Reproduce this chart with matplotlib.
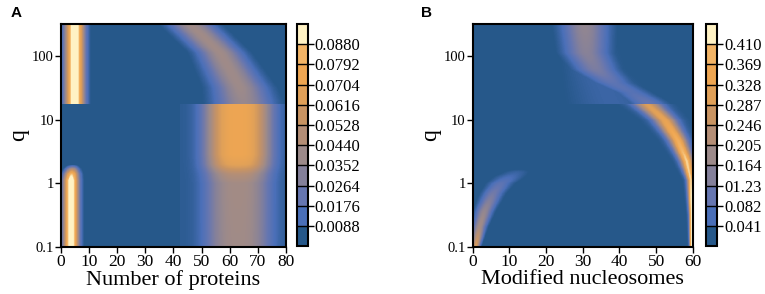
import numpy as np
import matplotlib
matplotlib.use("Agg")
import matplotlib.pyplot as plt
from matplotlib.colors import LinearSegmentedColormap, ListedColormap, BoundaryNorm, Normalize
from matplotlib.cm import ScalarMappable
from matplotlib.ticker import NullLocator

plt.rcParams['font.family'] = ['Liberation Serif', 'DejaVu Serif']

# colour blocks of the colour bars (bottom -> top)
block_colors = ['#26588a', '#4a6fb8', '#6676b0', '#84809a', '#9c8a8a', '#b48e76',
                '#c99462', '#e0a058', '#eea652', '#f2b466', '#fff2c4']

# q break where the solutions change regime
q_break = 17.8

# ---- panel A: number of proteins (log10 q, centre, width, height) ----
A_left_low_lq = [-1.0, 0.05, 0.15, 0.22, 0.30]
A_left_low_c = [3.6, 3.6, 3.8, 4.0, 4.2]
A_left_low_s = [1.9, 1.9, 1.8, 1.6, 1.4]
A_left_low_a = [0.102, 0.102, 0.085, 0.05, 0.0]

A_left_up_lq = [1.25, 2.5]
A_left_up_c = [4.9, 4.9]
A_left_up_s = [2.3, 2.3]
A_left_up_a = [0.106, 0.106]

A_band_up_lq = [1.25, 1.3, 1.5, 2.05, 2.5]
A_band_up_c = [65.0, 64.8, 63.7, 56.6, 46.0]
A_band_up_s = [7.0, 7.0, 6.5, 5.5, 5.5]
A_band_up_a = [0.038, 0.038, 0.040, 0.041, 0.041]

A_mid_low_lq = [-1.0, 0.0, 0.15, 0.3, 0.45, 1.25]
A_mid_low_c = [63.0, 63.0, 63.0, 63.0, 63.0, 63.0]
A_mid_low_s = [9.0, 9.0, 9.0, 9.0, 9.0, 9.0]
A_mid_low_a = [0.035, 0.036, 0.043, 0.062, 0.068, 0.068]

A_plateau_x = 42.5
A_plateau_v = 0.006

# ---- panel B: modified nucleosomes ----
B_arc_lq = [-1.0, -0.5, 0.05, 0.36, 0.68, 0.99, 1.25]
B_arc_c = [59.7, 59.7, 59.5, 58.3, 55.9, 52.4, 47.4]
B_arc_s = [0.35, 0.45, 0.7, 1.2, 1.6, 2.0, 2.4]
B_arc_a = [0.46, 0.42, 0.37, 0.37, 0.33, 0.29, 0.26]

B_left_lq = [-1.0, -0.69, -0.43, -0.16, 0.0, 0.10, 0.18, 0.26]
B_left_c = [0.8, 1.8, 3.2, 5.5, 7.6, 10.0, 12.0, 13.5]
B_left_s = [0.7, 1.2, 1.6, 2.0, 2.4, 3.0, 3.0, 3.0]
B_left_a = [0.30, 0.20, 0.17, 0.12, 0.09, 0.06, 0.04, 0.0]

B_band_up_lq = [1.25, 1.28, 1.42, 1.57, 1.78, 2.05, 2.5]
B_band_up_c = [48.0, 47.4, 43.6, 38.3, 33.7, 31.0, 30.5]
B_band_up_s = [3.5, 3.5, 3.5, 3.8, 4.0, 4.2, 4.4]
B_band_up_a = [0.10, 0.10, 0.08, 0.09, 0.13, 0.15, 0.17]

B_halo_up_lq = [1.25, 1.5, 1.8, 2.5]
B_halo_up_c = [38.0, 36.0, 33.0, 30.0]
B_halo_up_s = [10.0, 9.0, 7.0, 6.0]
B_halo_up_a = [0.045, 0.045, 0.045, 0.045]
B_halo_edge = 21.5

cbar_A_labels = ['0.0088', '0.0176', '0.0264', '0.0352', '0.0440',
                 '0.0528', '0.0616', '0.0704', '0.0792', '0.0880']
cbar_B_labels = ['0.041', '0.082', '01.23', '0.164', '0.205',
                 '0.246', '0.287', '0.328', '0.369', '0.410']
step_A = 0.0088
step_B = 0.041


def peak(x, lq, lqs, c, s, a, power=2.0):
    C = np.interp(lq, lqs, c)[:, None]
    S = np.interp(lq, lqs, s)[:, None]
    A = np.interp(lq, lqs, a, left=0.0, right=0.0)[:, None]
    return A * np.exp(-0.5 * (np.abs(x[None, :] - C) / S) ** power)


lq = np.linspace(-1, 2.5, 701)
q = 10 ** lq
upper = (q >= q_break)[:, None]

xA = np.linspace(0, 80, 641)
ZA = np.where(upper,
              peak(xA, lq, A_left_up_lq, A_left_up_c, A_left_up_s, A_left_up_a)
              + peak(xA, lq, A_band_up_lq, A_band_up_c, A_band_up_s, A_band_up_a),
              peak(xA, lq, A_left_low_lq, A_left_low_c, A_left_low_s, A_left_low_a)
              + peak(xA, lq, A_mid_low_lq, A_mid_low_c, A_mid_low_s, A_mid_low_a, power=3)
              + np.where(xA[None, :] >= A_plateau_x, A_plateau_v, 0.0))

xB = np.linspace(0, 60, 961)
halo = peak(xB, lq, B_halo_up_lq, B_halo_up_c, B_halo_up_s, B_halo_up_a)
halo = np.where(xB[None, :] >= B_halo_edge, halo, 0.0)
ZB = np.where(upper,
              np.maximum(peak(xB, lq, B_band_up_lq, B_band_up_c, B_band_up_s, B_band_up_a), halo),
              peak(xB, lq, B_arc_lq, B_arc_c, B_arc_s, B_arc_a)
              + peak(xB, lq, B_arc_lq, B_arc_c, np.array(B_arc_s) * 3, [0.04] * 7)
              + peak(xB, lq, B_left_lq, B_left_c, B_left_s, B_left_a))

smooth_cmap = LinearSegmentedColormap.from_list(
    'bo', list(zip(np.r_[0, (np.arange(11) + 0.5) / 11, 1],
                   [block_colors[0]] + block_colors + [block_colors[-1]])))
block_cmap = ListedColormap(block_colors)

fig = plt.figure(figsize=(7.65, 2.94), dpi=100)


def panel(rect, crect, x, Z, step, labels, xticks, xlabel, letter, lpos):
    ax = fig.add_axes(rect)
    vmax = step * 11
    ax.pcolormesh(x, q, Z, cmap=smooth_cmap, norm=Normalize(0, vmax),
                  shading='nearest', rasterized=True)
    ax.set_yscale('log')
    ax.set_ylim(0.1, 10 ** 2.5)
    ax.set_xlim(x[0], x[-1])
    ax.set_yticks([0.1, 1, 10, 100])
    ax.set_yticklabels(['0.1', '1', '10', '100'])
    ax.yaxis.set_minor_locator(NullLocator())
    ax.set_xticks(xticks)
    ax.tick_params(axis='x', labelsize=12.5, length=4, width=1, pad=1)
    ax.tick_params(axis='y', labelsize=10.5, length=4, width=1, pad=1)
    for sp in ax.spines.values():
        sp.set_linewidth(1.5)
    ax.set_xlabel(xlabel, fontsize=16, labelpad=0)
    ax.set_ylabel('q', fontsize=17, labelpad=2)

    cax = fig.add_axes(crect)
    bounds = np.arange(12) * step
    cb = fig.colorbar(ScalarMappable(norm=BoundaryNorm(bounds, 11), cmap=block_cmap),
                      cax=cax, drawedges=True)
    cb.set_ticks(bounds[1:-1])
    cb.set_ticklabels(labels)
    cb.ax.minorticks_off()
    cb.ax.tick_params(labelsize=12, length=4, width=1, pad=1)
    cb.outline.set_linewidth(1.5)
    cb.dividers.set_linewidth(1)
    fig.text(lpos[0], lpos[1], letter, fontsize=11, fontweight='bold',
             family='Liberation Sans', ha='center', va='center')


panel([0.0797, 0.160, 0.294, 0.758], [0.388, 0.163, 0.0144, 0.755],
      xA, ZA, step_A, cbar_A_labels, range(0, 81, 10), 'Number of proteins', 'A', (0.021, 0.955))
panel([0.618, 0.160, 0.2876, 0.758], [0.923, 0.163, 0.0144, 0.755],
      xB, ZB, step_B, cbar_B_labels, range(0, 61, 10), 'Modified nucleosomes', 'B', (0.558, 0.955))

fig.savefig('out.png', dpi=100)
